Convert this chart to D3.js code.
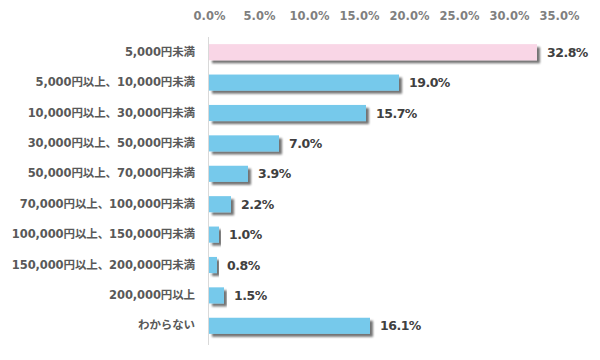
<!DOCTYPE html>
<html><head><meta charset="utf-8">
<script src="https://cdn.jsdelivr.net/npm/d3@7"></script>
<style>
html,body{margin:0;padding:0;background:#fff;}
svg text{font-family:"DejaVu Sans","Noto Sans CJK JP",sans-serif;}
</style></head>
<body><svg id="c" width="600" height="360"></svg>
<script>
const categories = ["5,000円未満","5,000円以上、10,000円未満","10,000円以上、30,000円未満","30,000円以上、50,000円未満","50,000円以上、70,000円未満","70,000円以上、100,000円未満","100,000円以上、150,000円未満","150,000円以上、200,000円未満","200,000円以上","わからない"];
const values = [32.8,19.0,15.7,7.0,3.9,2.2,1.0,0.8,1.5,16.1];
const tickValues = [0,5,10,15,20,25,30,35];
const tickLabels = ["0.0%","5.0%","10.0%","15.0%","20.0%","25.0%","30.0%","35.0%"];
const barColors = ["#F9D6E6","#76C9EB"];

const svg = d3.select("#c");
const defs = svg.append("defs");
const f = defs.append("filter").attr("id","sh").attr("x","-10%").attr("y","-40%").attr("width","130%").attr("height","200%");
f.append("feGaussianBlur").attr("in","SourceAlpha").attr("stdDeviation",1.3).attr("result","b");
f.append("feOffset").attr("in","b").attr("dx",2.5).attr("dy",2.5).attr("result","o");
f.append("feComponentTransfer").attr("in","o").attr("result","o2").append("feFuncA").attr("type","linear").attr("slope",0.55);
const m = f.append("feMerge");
m.append("feMergeNode").attr("in","o2");
m.append("feMergeNode").attr("in","SourceGraphic");

const x = d3.scaleLinear().domain([0,35]).range([209,559]);
const y = d3.scaleBand().domain(categories).range([37,341]).paddingInner(0.47).paddingOuter(0.235);

const ax = svg.append("g").attr("transform","translate(0,20)")
  .call(d3.axisTop(x).tickValues(tickValues).tickFormat((d,i)=>tickLabels[i]).tickSize(0).tickPadding(0));
ax.select(".domain").remove();
ax.selectAll("text").attr("fill","#7f7f7f").attr("font-size","11.5px").attr("font-weight","bold").attr("dy","0");

svg.append("line").attr("x1",x(0)-0.5).attr("x2",x(0)-0.5).attr("y1",37).attr("y2",345)
  .attr("stroke","#d9d9d9").attr("stroke-width",1);

const ay = svg.append("g").attr("transform","translate(195,0)")
  .call(d3.axisLeft(y).tickSize(0).tickPadding(0));
ay.select(".domain").remove();
ay.selectAll("text").attr("fill","#595959").attr("font-size","11.5px").attr("font-weight","bold")
  .attr("letter-spacing","-0.1px");

const d = categories.map((c,i)=>({c,v:values[i],i}));
svg.append("g").selectAll("rect").data(d).join("rect")
  .attr("x",x(0)).attr("y",e=>y(e.c)).attr("height",y.bandwidth())
  .attr("width",e=>x(e.v)-x(0)).attr("fill",e=>e.i===0?barColors[0]:barColors[1])
  .attr("filter","url(#sh)");

svg.append("g").selectAll("text").data(d).join("text")
  .attr("x",e=>x(e.v)+10).attr("y",e=>y(e.c)+y.bandwidth()/2).attr("dy","0.36em")
  .attr("fill","#404040").attr("font-size","12.5px").attr("font-weight","bold")
  .attr("letter-spacing","-0.5px")
  .text(e=>e.v.toFixed(1)+"%");
</script></body></html>
